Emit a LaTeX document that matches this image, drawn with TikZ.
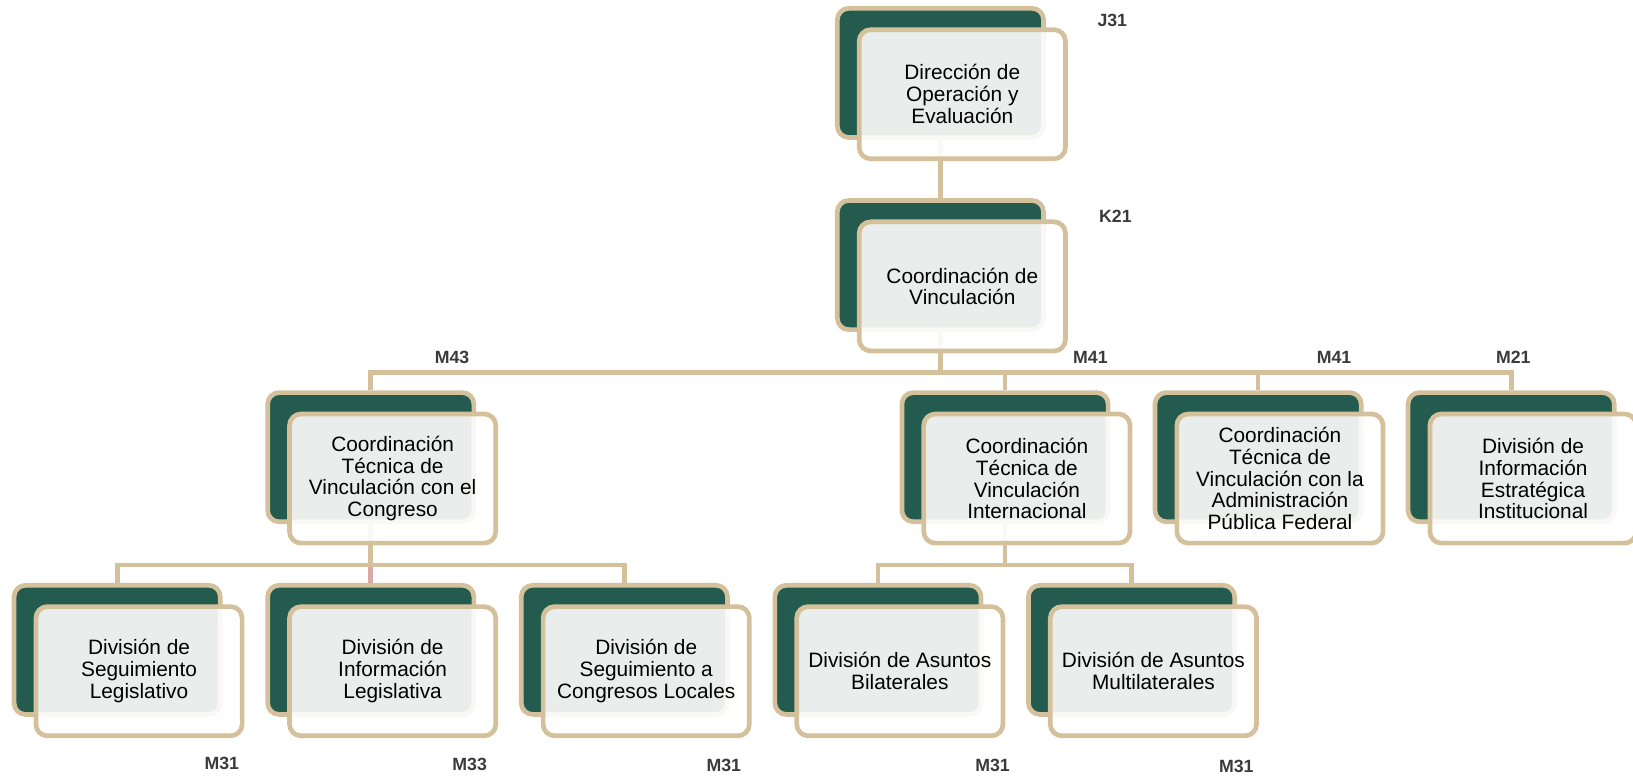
\documentclass[tikz,border=0pt]{standalone}
\usepackage{fontspec}
\setmainfont{Liberation Sans}
\definecolor{vgreen}{HTML}{235B4E}
\definecolor{vtan}{HTML}{D4C19C}
\definecolor{vpink}{HTML}{DBA8A8}
\definecolor{vlabel}{HTML}{3A3A3A}
\begin{document}
\begin{tikzpicture}[x=1pt,y=-1pt,
  backbox/.style={rectangle, rounded corners=11pt, minimum width=198pt, minimum height=124pt, inner sep=0pt, fill=vgreen, draw=vtan, line width=4.5pt},
  frontbox/.style={rectangle, rounded corners=11pt, minimum width=198pt, minimum height=124pt, inner sep=0pt, fill=white, fill opacity=0.9, text opacity=1, draw=vtan, draw opacity=1, line width=4.5pt, align=center, font=\fontsize{20}{21}\selectfont, text=black},
  link/.style={draw=vtan, line width=4.5pt},
  pinklink/.style={draw=vpink, line width=4.5pt},
  grade/.style={font=\fontsize{17}{17}\selectfont\bfseries, text=vlabel, inner sep=0pt}]

\useasboundingbox (0,0) rectangle (1568,747);

% back boxes
\node[backbox] (jb) at (903,70) {};
\node[backbox] (kb) at (903,254.5) {};
\node[backbox] (ab) at (356,439) {};
\node[backbox] (bb) at (965,439) {};
\node[backbox] (cb) at (1208,439) {};
\node[backbox] (db) at (1451,439) {};
\node[backbox] (r1b) at (112.5,624) {};
\node[backbox] (r2b) at (356,624) {};
\node[backbox] (r3b) at (599.5,624) {};
\node[backbox] (r4b) at (843,624) {};
\node[backbox] (r5b) at (1086.5,624) {};

% connectors
\coordinate (bus1) at (0,357.5);
\coordinate (bus2) at (0,542.5);
\draw[link] (jb.south) -- (kb.north);
\draw[link] (kb.south) -- (kb.south |- bus1);
\draw[link] (ab.north) -- (ab.north |- bus1) -- (db.north |- bus1) -- (db.north);
\draw[link] (bb.north) -- (bb.north |- bus1);
\draw[link] (cb.north) -- (cb.north |- bus1);
\draw[link] (ab.south) -- (ab.south |- bus2);
\draw[pinklink] (r2b.north) -- (r2b.north |- bus2);
\draw[link] (r1b.north) -- (r1b.north |- bus2) -- (r3b.north |- bus2) -- (r3b.north);
\draw[link] (bb.south) -- (bb.south |- bus2);
\draw[link] (r4b.north) -- (r4b.north |- bus2) -- (r5b.north |- bus2) -- (r5b.north);

% front boxes
\node[frontbox] (jf) at ([shift={(21pt,-20.5pt)}]jb.center) {Dirección de\\Operación y\\Evaluación};
\node[frontbox] (kf) at ([shift={(21pt,-20.5pt)}]kb.center) {Coordinación de\\Vinculación};
\node[frontbox] (af) at ([shift={(21pt,-20.5pt)}]ab.center) {Coordinación\\Técnica de\\Vinculación con el\\Congreso};
\node[frontbox] (bf) at ([shift={(21pt,-20.5pt)}]bb.center) {Coordinación\\Técnica de\\Vinculación\\Internacional};
\node[frontbox] (cf) at ([shift={(21pt,-20.5pt)}]cb.center) {Coordinación\\Técnica de\\Vinculación con la\\Administración\\Pública Federal};
\node[frontbox] (df) at ([shift={(21pt,-20.5pt)}]db.center) {División de\\Información\\Estratégica\\Institucional};
\node[frontbox] (r1f) at ([shift={(21pt,-20.5pt)}]r1b.center) {División de\\Seguimiento\\Legislativo};
\node[frontbox] (r2f) at ([shift={(21pt,-20.5pt)}]r2b.center) {División de\\Información\\Legislativa};
\node[frontbox] (r3f) at ([shift={(21pt,-20.5pt)}]r3b.center) {División de\\Seguimiento a\\Congresos Locales};
\node[frontbox] (r4f) at ([shift={(21pt,-20.5pt)}]r4b.center) {División de Asuntos\\Bilaterales};
\node[frontbox] (r5f) at ([shift={(21pt,-20.5pt)}]r5b.center) {División de Asuntos\\Multilaterales};

% grade labels
\node[grade] (lj) at (1068,20) {J31};
\node[grade] (lk) at (1071,208) {K21};
\node[grade] (la) at (434,343) {M43};
\node[grade] (lb) at (1047,343) {M41};
\node[grade] (lc) at (1281,343) {M41};
\node[grade] (ld) at (1453,343) {M21};
\node[grade] (l1) at (213,733) {M31};
\node[grade] (l2) at (451,734) {M33};
\node[grade] (l3) at (695,735) {M31};
\node[grade] (l4) at (953,735) {M31};
\node[grade] (l5) at (1187,736) {M31};
\end{tikzpicture}
\end{document}
